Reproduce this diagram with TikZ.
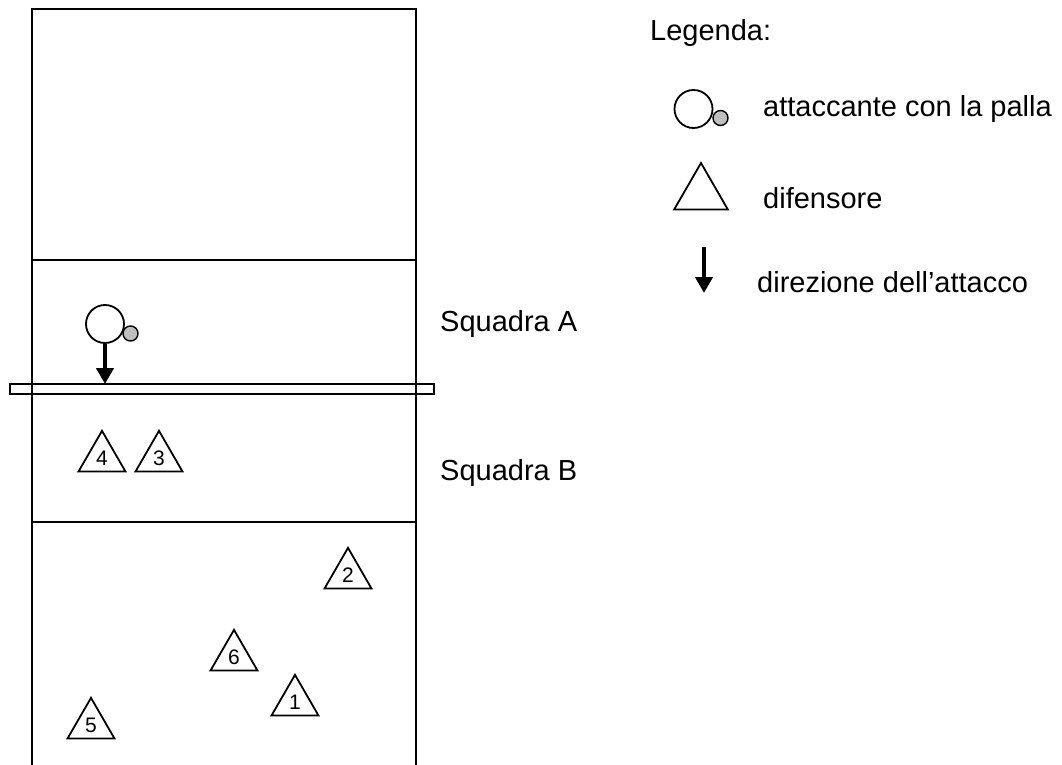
\documentclass[tikz,border=0pt]{standalone}
\usepackage{fontspec}
\setmainfont{Liberation Sans}
\usetikzlibrary{shapes.geometric,arrows.meta}
\newcommand{\dnum}[1]{\raisebox{-4pt}{#1}}
\begin{document}
\begin{tikzpicture}[x=1pt,y=-1pt,
  court/.style={line width=2pt},
  defender/.style={draw, line width=1.8pt, regular polygon, regular polygon sides=3, minimum size=54.3pt, inner sep=0pt, font=\fontsize{21}{25}\selectfont},
  legdefender/.style={defender, minimum size=62pt},
  attacker/.style={draw, line width=1.8pt, circle, minimum size=38pt, inner sep=0pt},
  ball/.style={draw, line width=1.4pt, circle, minimum size=15pt, inner sep=0pt, fill=black!25},
  dirarrow/.style={line width=4pt, -{Triangle[length=16pt,width=17pt]}},
  lbl/.style={anchor=base west, inner sep=0pt, font=\fontsize{29}{34}\selectfont}]
\path[use as bounding box] (0,0) rectangle (1062,765);
% court
\draw[court] (32,765) -- (32,9) -- (416,9) -- (416,765);
\draw[court] (32,260) -- (416,260);
\draw[court] (32,522) -- (416,522);
\node[draw, line width=2pt, minimum width=424pt, minimum height=10pt, inner sep=0pt] (net) at (222,389) {};
% attacker
\node[attacker] (att) at (105,324) {};
\node[ball] (attball) at (130.5,333.5) {};
\coordinate (netpt) at (105,384);
\draw[dirarrow] (att.south) -- (netpt);
% defenders
\node[defender] (d4) at (102,458) {\dnum{4}};
\node[defender] (d3) at (159,458) {\dnum{3}};
\node[defender] (d2) at (348,575) {\dnum{2}};
\node[defender] (d6) at (234,657) {\dnum{6}};
\node[defender] (d1) at (295,702) {\dnum{1}};
\node[defender] (d5) at (91,725) {\dnum{5}};
% team labels
\node[lbl] (sqA) at (440,331) {Squadra A};
\node[lbl] (sqB) at (440,480) {Squadra B};
% legend
\node[lbl] (leg) at (650,41) {Legenda:};
\node[attacker] (latt) at (693.5,109) {};
\node[ball] (lball) at (720.5,118) {};
\node[lbl] (latttxt) at (763,117) {attaccante con la palla};
\node[legdefender] (ldef) at (701,194) {};
\node[lbl] (ldeftxt) at (763,208) {difensore};
\coordinate (la1) at (704,247);
\coordinate (la2) at (704,293);
\draw[dirarrow] (la1) -- (la2);
\node[lbl] (ldirtxt) at (757,292) {direzione dell’attacco};
\end{tikzpicture}
\end{document}
